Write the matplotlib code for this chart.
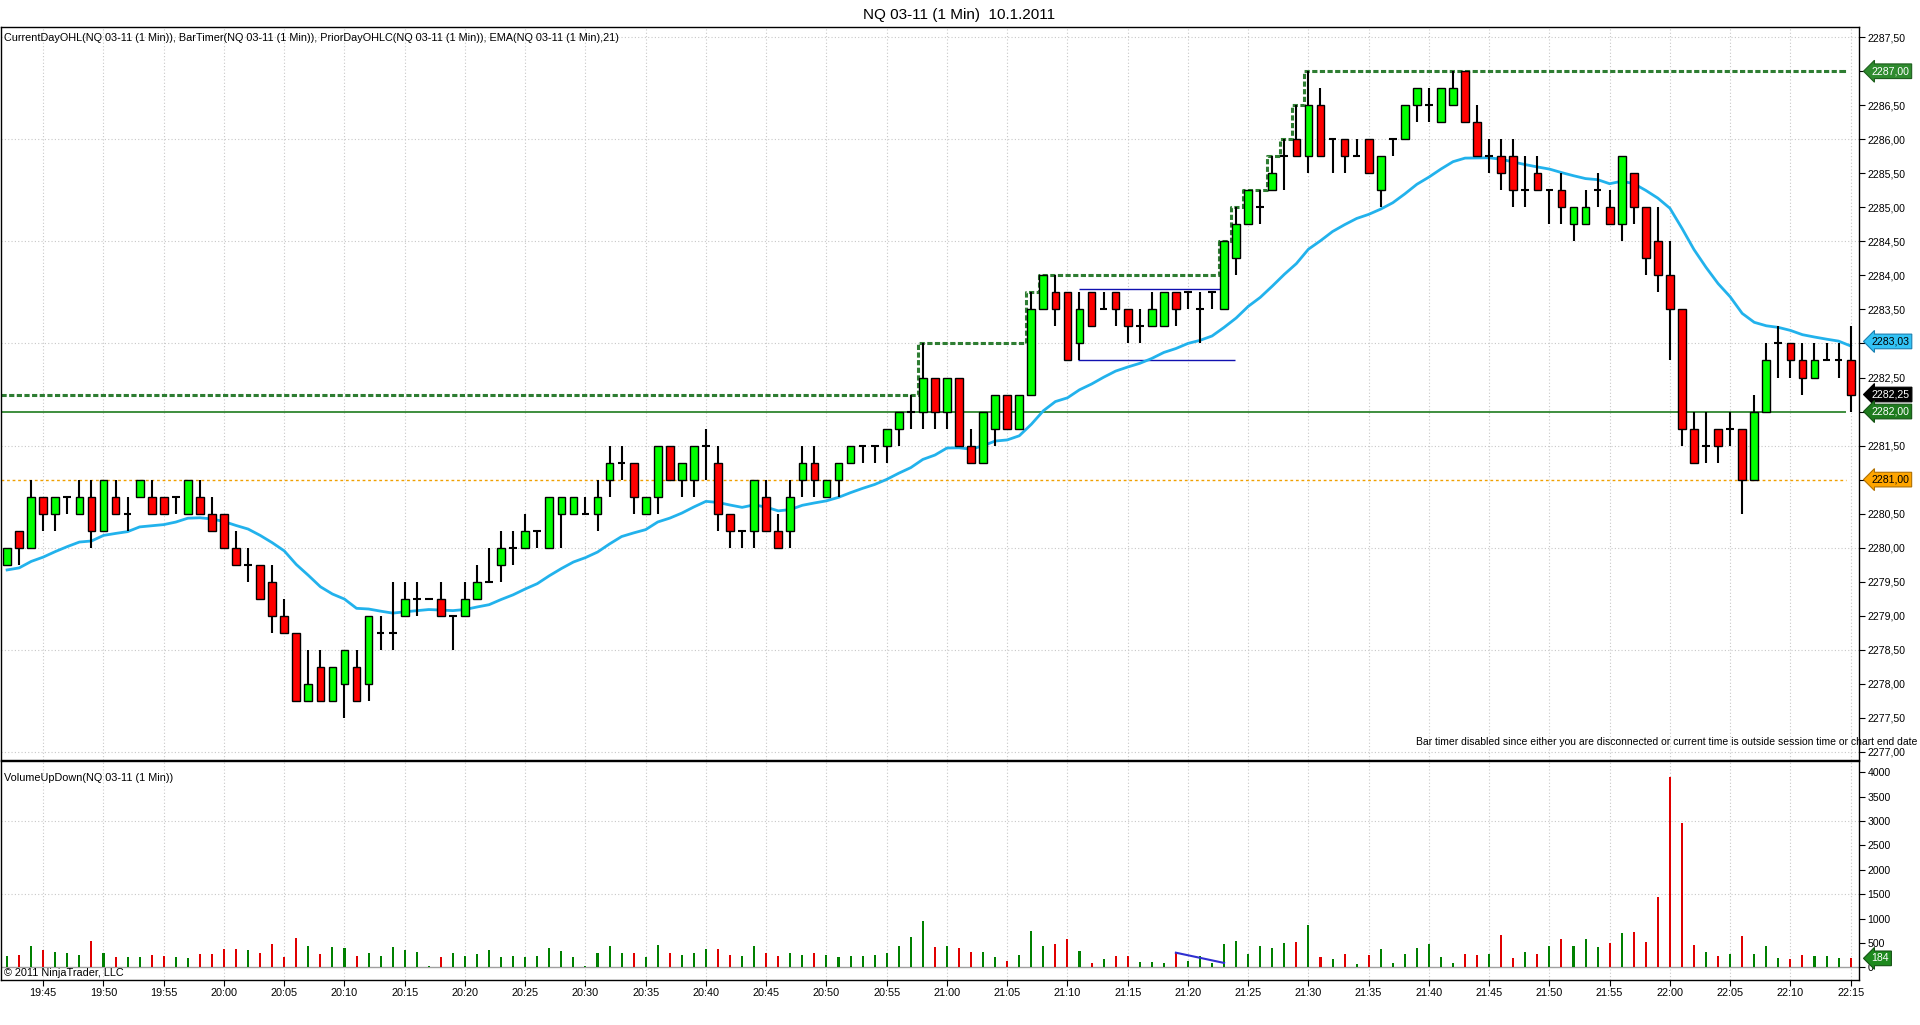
import numpy as np
import matplotlib
matplotlib.use("Agg")
import matplotlib.pyplot as plt
from matplotlib.ticker import FixedLocator, FuncFormatter

plt.rcParams['font.family'] = ['Liberation Sans', 'DejaVu Sans']

# ---------------- data (1-minute bars, first bar 19:42) ----------------
first_bar_offset = -3  # minutes relative to 19:45 (first x tick)

opens = [
    2279.75, 2280.25, 2280.0, 2280.75, 2280.5, 2280.75, 2280.5, 2280.75, 2280.25, 2280.75,   # 19:42-19:51
    2280.5, 2280.75, 2280.75, 2280.75, 2280.75, 2280.5, 2280.75, 2280.5, 2280.5, 2280.0,     # 19:52-20:01
    2279.75, 2279.75, 2279.5, 2279.0, 2278.75, 2277.75, 2278.25, 2277.75, 2278.0, 2278.25,   # 20:02-20:11
    2278.0, 2278.75, 2278.75, 2279.0, 2279.25, 2279.25, 2279.25, 2279.0, 2279.0, 2279.25,    # 20:12-20:21
    2279.5, 2279.75, 2280.0, 2280.0, 2280.25, 2280.0, 2280.5, 2280.5, 2280.5, 2280.5,        # 20:22-20:31
    2281.0, 2281.25, 2281.25, 2280.5, 2280.75, 2281.5, 2281.0, 2281.0, 2281.5, 2281.25,      # 20:32-20:41
    2280.5, 2280.25, 2280.25, 2280.75, 2280.25, 2280.25, 2281.0, 2281.25, 2280.75, 2281.0,   # 20:42-20:51
    2281.25, 2281.5, 2281.5, 2281.5, 2281.75, 2282.0, 2282.0, 2282.5, 2282.0, 2282.5,        # 20:52-21:01
    2281.5, 2281.25, 2281.75, 2282.25, 2281.75, 2282.25, 2283.5, 2283.75, 2283.75, 2283.0,   # 21:02-21:11
    2283.75, 2283.5, 2283.75, 2283.5, 2283.25, 2283.25, 2283.25, 2283.75, 2283.75, 2283.5,   # 21:12-21:21
    2283.75, 2283.5, 2284.25, 2284.75, 2285.0, 2285.25, 2285.75, 2286.0, 2285.75, 2286.5,    # 21:22-21:31
    2286.0, 2286.0, 2285.75, 2286.0, 2285.25, 2286.0, 2286.0, 2286.5, 2286.5, 2286.25,       # 21:32-21:41
    2286.5, 2287.0, 2286.25, 2285.75, 2285.75, 2285.75, 2285.25, 2285.5, 2285.25, 2285.25,   # 21:42-21:51
    2284.75, 2284.75, 2285.25, 2285.0, 2284.75, 2285.5, 2285.0, 2284.5, 2284.0, 2283.5,      # 21:52-22:01
    2281.75, 2281.5, 2281.75, 2281.75, 2281.75, 2281.0, 2282.0, 2283.0, 2283.0, 2282.75,     # 22:02-22:11
    2282.5, 2282.75, 2282.75, 2282.75,                                                       # 22:12-22:15
]
highs = [
    2280.0, 2280.25, 2281.0, 2280.75, 2280.75, 2280.75, 2281.0, 2281.0, 2281.0, 2281.0,
    2280.75, 2281.0, 2281.0, 2280.75, 2280.75, 2281.0, 2281.0, 2280.75, 2280.5, 2280.25,
    2280.0, 2279.75, 2279.75, 2279.25, 2278.75, 2278.5, 2278.5, 2278.25, 2278.5, 2278.5,
    2279.0, 2279.0, 2279.5, 2279.5, 2279.5, 2279.25, 2279.5, 2279.0, 2279.5, 2279.75,
    2280.0, 2280.25, 2280.25, 2280.5, 2280.25, 2280.75, 2280.75, 2280.75, 2280.75, 2281.0,
    2281.5, 2281.5, 2281.25, 2280.75, 2281.5, 2281.5, 2281.25, 2281.5, 2281.75, 2281.5,
    2280.5, 2280.25, 2281.0, 2281.0, 2280.5, 2281.0, 2281.5, 2281.5, 2281.0, 2281.25,
    2281.5, 2281.5, 2281.5, 2281.75, 2282.0, 2282.25, 2283.0, 2282.5, 2282.5, 2282.5,
    2281.75, 2282.0, 2282.25, 2282.25, 2282.25, 2283.75, 2284.0, 2284.0, 2283.75, 2283.75,
    2283.75, 2283.75, 2283.75, 2283.5, 2283.5, 2283.75, 2283.75, 2283.75, 2283.75, 2283.75,
    2283.75, 2284.5, 2285.0, 2285.25, 2285.25, 2285.75, 2286.0, 2286.5, 2287.0, 2286.75,
    2286.0, 2286.0, 2286.0, 2286.0, 2285.75, 2286.0, 2286.5, 2286.75, 2286.75, 2286.75,
    2287.0, 2287.0, 2286.5, 2286.0, 2286.0, 2286.0, 2285.75, 2285.75, 2285.25, 2285.5,
    2285.0, 2285.25, 2285.5, 2285.25, 2285.75, 2285.5, 2285.0, 2285.0, 2284.5, 2283.5,
    2282.0, 2282.0, 2281.75, 2282.0, 2281.75, 2282.25, 2283.0, 2283.25, 2283.0, 2283.0,
    2283.0, 2283.0, 2283.0, 2283.25,
]
lows = [
    2279.75, 2279.75, 2280.0, 2280.25, 2280.25, 2280.5, 2280.5, 2280.0, 2280.25, 2280.5,
    2280.25, 2280.75, 2280.5, 2280.5, 2280.5, 2280.5, 2280.5, 2280.25, 2280.0, 2279.75,
    2279.5, 2279.25, 2278.75, 2278.75, 2277.75, 2277.75, 2277.75, 2277.75, 2277.5, 2277.75,
    2277.75, 2278.5, 2278.5, 2279.0, 2279.0, 2279.25, 2279.0, 2278.5, 2279.0, 2279.25,
    2279.5, 2279.5, 2279.75, 2280.0, 2280.0, 2280.0, 2280.0, 2280.5, 2280.5, 2280.25,
    2280.75, 2281.0, 2280.5, 2280.5, 2280.5, 2281.0, 2280.75, 2280.75, 2281.0, 2280.25,
    2280.0, 2280.0, 2280.0, 2280.25, 2280.0, 2280.0, 2280.75, 2280.75, 2280.75, 2280.75,
    2281.25, 2281.25, 2281.25, 2281.25, 2281.5, 2281.75, 2281.75, 2281.75, 2281.75, 2281.5,
    2281.25, 2281.25, 2281.5, 2281.75, 2281.75, 2282.25, 2283.5, 2283.25, 2282.75, 2282.75,
    2283.25, 2283.5, 2283.25, 2283.0, 2283.0, 2283.25, 2283.25, 2283.25, 2283.5, 2283.0,
    2283.5, 2283.5, 2284.0, 2284.75, 2284.75, 2285.25, 2285.25, 2285.75, 2285.5, 2285.75,
    2285.5, 2285.5, 2285.75, 2285.5, 2285.0, 2285.75, 2286.0, 2286.25, 2286.25, 2286.25,
    2286.5, 2286.25, 2285.75, 2285.5, 2285.25, 2285.0, 2285.0, 2285.25, 2284.75, 2284.75,
    2284.5, 2284.75, 2285.0, 2284.75, 2284.5, 2284.75, 2284.0, 2283.75, 2282.75, 2281.5,
    2281.25, 2281.25, 2281.25, 2281.5, 2280.5, 2281.0, 2282.0, 2282.5, 2282.5, 2282.25,
    2282.5, 2282.75, 2282.5, 2282.0,
]
closes = [
    2280.0, 2280.0, 2280.75, 2280.5, 2280.75, 2280.75, 2280.75, 2280.25, 2281.0, 2280.5,
    2280.5, 2281.0, 2280.5, 2280.5, 2280.75, 2281.0, 2280.5, 2280.25, 2280.0, 2279.75,
    2279.75, 2279.25, 2279.0, 2278.75, 2277.75, 2278.0, 2277.75, 2278.25, 2278.5, 2277.75,
    2279.0, 2278.75, 2278.75, 2279.25, 2279.25, 2279.25, 2279.0, 2279.0, 2279.25, 2279.5,
    2279.5, 2280.0, 2280.0, 2280.25, 2280.25, 2280.75, 2280.75, 2280.75, 2280.5, 2280.75,
    2281.25, 2281.25, 2280.75, 2280.75, 2281.5, 2281.0, 2281.25, 2281.5, 2281.5, 2280.5,
    2280.25, 2280.25, 2281.0, 2280.25, 2280.0, 2280.75, 2281.25, 2281.0, 2281.0, 2281.25,
    2281.5, 2281.5, 2281.5, 2281.75, 2282.0, 2282.0, 2282.5, 2282.0, 2282.5, 2281.5,
    2281.25, 2282.0, 2282.25, 2281.75, 2282.25, 2283.5, 2284.0, 2283.5, 2282.75, 2283.5,
    2283.25, 2283.5, 2283.5, 2283.25, 2283.25, 2283.5, 2283.75, 2283.5, 2283.75, 2283.5,
    2283.75, 2284.5, 2284.75, 2285.25, 2285.0, 2285.5, 2285.75, 2285.75, 2286.5, 2285.75,
    2286.0, 2285.75, 2285.75, 2285.5, 2285.75, 2286.0, 2286.5, 2286.75, 2286.5, 2286.75,
    2286.75, 2286.25, 2285.75, 2285.75, 2285.5, 2285.25, 2285.25, 2285.25, 2285.25, 2285.0,
    2285.0, 2285.0, 2285.25, 2284.75, 2285.75, 2285.0, 2284.25, 2284.0, 2283.5, 2281.75,
    2281.25, 2281.5, 2281.5, 2281.75, 2281.0, 2282.0, 2282.75, 2283.0, 2282.75, 2282.5,
    2282.75, 2282.75, 2282.75, 2282.25,
]
volumes = [
    227, 259, 432, 356, 324, 302, 254, 535, 286, 205,
    221, 205, 254, 227, 221, 189, 270, 270, 383, 383,
    351, 302, 481, 221, 594, 432, 270, 416, 400, 238,
    302, 238, 416, 351, 319, 20, 205, 286, 238, 270,
    351, 221, 238, 221, 238, 400, 335, 205, 22, 286,
    432, 286, 286, 205, 464, 286, 254, 302, 383, 383,
    254, 238, 432, 286, 238, 286, 254, 302, 254, 205,
    238, 238, 254, 286, 432, 626, 956, 418,
    438, 397, 315, 315, 212, 130, 253, 747, 438, 480,
    582, 336, 89, 171, 233, 233, 110, 110, 89, 301,
    130, 233, 89, 480, 541, 274, 438, 397, 500, 521,
    877, 212, 171, 274, 68, 253, 377, 89, 274, 397,
    480, 212, 89, 274, 253, 274, 664, 192, 315, 274,
    438, 582, 438, 582, 418, 500, 706, 726, 521, 1445,
    3911, 2966, 459, 315, 233, 274, 644, 274, 438, 192,
    171, 253, 233, 233, 192, 184,
]

time_labels = ["19:45", "19:50", "19:55", "20:00", "20:05", "20:10", "20:15", "20:20",
               "20:25", "20:30", "20:35", "20:40", "20:45", "20:50", "20:55", "21:00",
               "21:05", "21:10", "21:15", "21:20", "21:25", "21:30", "21:35", "21:40",
               "21:45", "21:50", "21:55", "22:00", "22:05", "22:10", "22:15"]
price_tick_values = [2277.0 + 0.5 * k for k in range(22)]
volume_tick_values = [0, 500, 1000, 1500, 2000, 2500, 3000, 3500, 4000]

prior_high = 2282.25       # current-day high before the visible bars
day_open_level = 2282.00   # solid green level
prior_low_level = 2281.00  # orange dotted level
ema_period = 21
ema_seed = 2279.64
ema_last_label = 2283.03

range_upper = 2283.80
range_lower = 2282.75
range_x = (86, 98.2)       # minutes after 19:45
range_x_low = (85.9, 98.9)
vol_trend = ((94, 300), (98, 90))

title = "NQ 03-11 (1 Min)  10.1.2011"
indicators = ("CurrentDayOHL(NQ 03-11 (1 Min)), BarTimer(NQ 03-11 (1 Min)), "
              "PriorDayOHLC(NQ 03-11 (1 Min)), EMA(NQ 03-11 (1 Min),21)")
vol_title = "VolumeUpDown(NQ 03-11 (1 Min))"
bar_timer_msg = ("Bar timer disabled since either you are disconnected or current time "
                 "is outside session time or chart end date")
copyright_txt = "\u00a9 2011 NinjaTrader, LLC"

# ---------------- derived ----------------
o = np.array(opens); h = np.array(highs); l = np.array(lows); c = np.array(closes)
v = np.array(volumes, dtype=float)
n = len(c)
t = np.arange(n) + first_bar_offset

alpha = 2.0 / (ema_period + 1)
ema = []
prev = ema_seed
for cc in c:
    prev = prev + alpha * (cc - prev)
    ema.append(prev)
ema = np.array(ema)

running_high = np.maximum.accumulate(np.r_[prior_high, h])[1:]

# ---------------- figure ----------------
W, H = 1920, 1025
fig = plt.figure(figsize=(W / 100, H / 100), dpi=100)
fig.patch.set_facecolor('white')

def fy(px):
    return 1 - px / H

x_left, x_right = -3.51, 150.69
ax1 = fig.add_axes([0.0005, fy(760), 1858 / W, (760 - 27) / H])
ax2 = fig.add_axes([0.0005, fy(980), 1858 / W, (980 - 761) / H], sharex=ax1)

grid_kw = dict(color='#c8c8c8', lw=0.8, linestyle=(0, (1, 2)), zorder=0)
xt = np.arange(0, 151, 5)
for ax in (ax1, ax2):
    for xx in xt:
        ax.axvline(xx, **grid_kw)
    for sp in ax.spines.values():
        sp.set_color('black')
        sp.set_linewidth(1)

# price gridlines every 1.5
for yy in np.arange(2277.0, 2288.0, 1.5):
    ax1.axhline(yy, **grid_kw)

# level lines
line_end = 149.6
ax1.hlines(day_open_level, x_left, line_end, color='#1e7b1e', lw=1.2, zorder=1)
ax1.hlines(prior_low_level, x_left, line_end, color='#f0a000', lw=1.0,
           linestyle=(0, (2, 2)), zorder=1)

# running high (dashed step)
sx = np.r_[x_left, t - 0.4, 149.4]
sy = np.r_[prior_high, running_high, running_high[-1]]
ax1.step(sx, sy, where='post', color='#2e7d32', lw=2.2, linestyle=(0, (1.7, 0.8)), zorder=1.5)

# drawn range lines
ax1.hlines(range_upper, range_x[0], range_x[1], color='#1010b0', lw=1.0, zorder=1.6)
ax1.hlines(range_lower, range_x_low[0], range_x_low[1], color='#1010b0', lw=1.0, zorder=1.6)

# EMA
ax1.plot(t, ema, color='#22b2ec', lw=2.0, zorder=2)

# candles
bw = 0.64
ax1.vlines(t, l, h, color='black', lw=1.5, zorder=3)
up = c > o
dn = c < o
dj = c == o
ax1.bar(t[up], (c - o)[up], bottom=o[up], width=bw, color='#00ff00',
        edgecolor='black', linewidth=1.0, zorder=4)
ax1.bar(t[dn], (o - c)[dn], bottom=c[dn], width=bw, color='#ff0000',
        edgecolor='black', linewidth=1.0, zorder=4)
ax1.hlines(o[dj], t[dj] - bw / 2, t[dj] + bw / 2, color='black', lw=1.5, zorder=4)

ax1.set_xlim(x_left, x_right)
ax1.set_ylim(2276.88, 2287.65)

# levels whose right-axis tick labels are hidden under the value markers
covered = {round(running_high[-1], 2), round(ema_last_label, 1), day_open_level, prior_low_level}

def price_fmt(val, pos):
    if any(abs(val - cv) < 0.06 for cv in covered):
        return ""
    return f"{val:.2f}".replace('.', ',')

ax1.yaxis.tick_right()
ax1.yaxis.set_major_locator(FixedLocator(price_tick_values))
ax1.yaxis.set_major_formatter(FuncFormatter(price_fmt))
ax1.tick_params(axis='y', direction='out', length=4, width=0.8, pad=2, labelsize=7.6,
                colors='black')
ax1.tick_params(axis='x', which='both', bottom=False, labelbottom=False)

# volume panel
vcol = np.where(c < o, '#e00000', '#008000')
ax2.bar(t, v, width=0.17, color=vcol, zorder=3)
ax2.axhline(0, color='#a0a0a0', lw=1.0, zorder=2)
for yy in (1500, 3000):
    ax2.axhline(yy, **grid_kw)
(x0, y0), (x1, y1) = vol_trend
ax2.plot([x0, x1], [y0, y1], color='#3030d0', lw=1.5, zorder=4)
ax2.set_ylim(-260, 4232)
ax2.yaxis.tick_right()
ax2.yaxis.set_major_locator(FixedLocator(volume_tick_values))
ax2.yaxis.set_major_formatter(FuncFormatter(lambda val, pos: f"{int(val)}"))
ax2.tick_params(axis='y', direction='out', length=4, width=0.8, pad=2, labelsize=7.6)
ax2.xaxis.set_major_locator(FixedLocator(list(xt)))
ax2.set_xticklabels(time_labels)
ax2.tick_params(axis='x', direction='out', length=4, width=0.8, pad=2, labelsize=7.8)

# right-side value markers
def marker(ax, y, text, fc, tc, ec):
    ax.annotate(text, xy=(1, y), xycoords=('axes fraction', 'data'), xytext=(9, 0),
                textcoords='offset points', ha='left', va='center', fontsize=7.6,
                color=tc, annotation_clip=False, zorder=20,
                bbox=dict(boxstyle='larrow,pad=0.22', fc=fc, ec=ec, lw=0.8))

fmt = lambda x: f"{x:.2f}".replace('.', ',')
marker(ax1, running_high[-1], fmt(running_high[-1]), '#2e8b2e', 'white', '#1e5e1e')
marker(ax1, ema_last_label, fmt(ema_last_label), '#33c3f5', 'black', '#1a7fb0')
marker(ax1, c[-1], fmt(c[-1]), 'black', 'white', 'black')
marker(ax1, day_open_level, fmt(day_open_level), '#1e7b1e', 'white', '#145214')
marker(ax1, prior_low_level, fmt(prior_low_level), '#ffa500', 'black', '#b07000')
marker(ax2, v[-1], f"{int(v[-1])}", '#1e8a1e', 'white', '#145214')

# texts
fig.text(959 / W, fy(15), title, ha='center', va='center', fontsize=11)
fig.text(4 / W, fy(38), indicators, ha='left', va='center', fontsize=7.8)
fig.text(4 / W, fy(778), vol_title, ha='left', va='center', fontsize=7.8)
fig.text(4 / W, fy(973), copyright_txt, ha='left', va='center', fontsize=7.8)
fig.text(1917 / W, fy(742), bar_timer_msg, ha='right', va='center', fontsize=7.5)

fig.savefig("out.png", dpi=100, facecolor='white')
